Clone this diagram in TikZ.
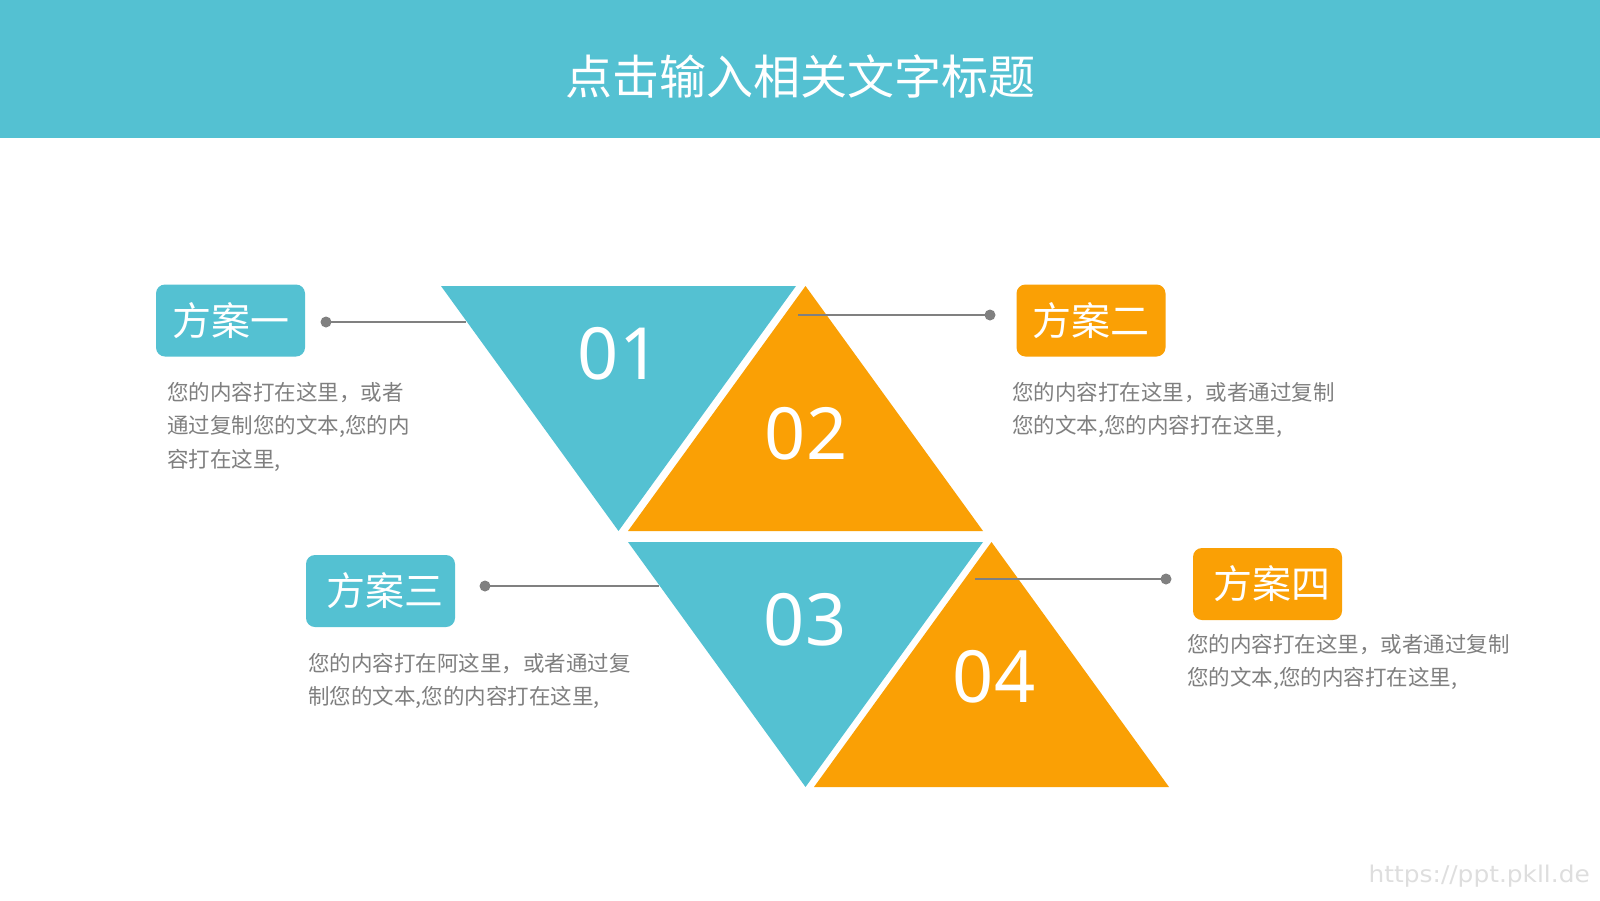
\documentclass[tikz,border=0pt]{standalone}
\usepackage{fontspec}
\newfontfamily\cjk{Noto Sans CJK SC}
\newfontfamily\numfont{Noto Sans}
\newfontfamily\wmfont{DejaVu Sans}
\definecolor{cy}{RGB}{84,193,210}
\definecolor{og}{RGB}{250,160,5}
\definecolor{tx}{RGB}{127,127,127}
\definecolor{ln}{RGB}{128,128,128}
\definecolor{wm}{RGB}{222,222,222}
\tikzset{
  tag/.style={rounded corners=9pt, minimum width=149pt, minimum height=72pt, inner sep=0pt, text=white, font=\cjk\fontsize{39}{46}\selectfont},
  desc/.style={anchor=base west, align=left, inner sep=0pt, text=tx, font=\cjk\fontsize{21.5}{33.5}\selectfont},
  num/.style={text=white, inner sep=0pt, font=\numfont\fontsize{72}{76}\selectfont},
  dotn/.style={circle, fill=ln, minimum size=11pt, inner sep=0pt},
  conn/.style={draw=ln, line width=2pt}
}
\begin{document}
\begin{tikzpicture}[x=1pt,y=-1pt]
\useasboundingbox (0,0) rectangle (1600,900);
\fill[white] (0,0) rectangle (1600,900);
% header
\fill[cy] (0,0) rectangle (1600,138);
\node[text=white, inner sep=0pt, font=\cjk\fontsize{47}{50}\selectfont] (title) at (800,76) {点击输入相关文字标题};
% triangles
\fill[cy] (441,286) -- (796,286) -- (618.5,531) -- cycle;
\fill[og] (628,531) -- (983,531) -- (805.5,286) -- cycle;
\fill[cy] (628,542) -- (983,542) -- (805.5,787) -- cycle;
\fill[og] (814,787) -- (1169,787) -- (991.5,542) -- cycle;
\node[num] (n1) at (619,354) {01};
\node[num] (n2) at (806,434) {02};
\node[num] (n3) at (805,620) {03};
\node[num] (n4) at (994,677) {04};
% tags
\node[tag, fill=cy] (t1) at (230.5,320.5) {方案一};
\node[tag, fill=og] (t2) at (1091,320.5) {方案二};
\node[tag, fill=cy] (t3) at (380.5,591) {\hspace{8pt}方案三};
\node[tag, fill=og] (t4) at (1267.5,584) {\hspace{8pt}方案四};
% connectors
\node[dotn] (d1) at (326,322) {};
\coordinate (e1) at (466,322);
\draw[conn] (d1.center) -- (e1);
\node[dotn] (d2) at (990,315) {};
\coordinate (e2) at (798,315);
\draw[conn] (e2) -- (d2.center);
\node[dotn] (d3) at (485,586) {};
\coordinate (e3) at (659,586);
\draw[conn] (d3.center) -- (e3);
\node[dotn] (d4) at (1166,579) {};
\coordinate (e4) at (975,579);
\draw[conn] (e4) -- (d4.center);
% descriptions (anchor = baseline of last line)
\node[desc] (x1) at (167,467) {您的内容打在这里，或者\\通过复制您的文本,您的内\\容打在这里,};
\node[desc] (x2) at (1012,433.5) {您的内容打在这里，或者通过复制\\您的文本,您的内容打在这里,};
\node[desc] (x3) at (308,704.5) {您的内容打在阿这里，或者通过复\\制您的文本,您的内容打在这里,};
\node[desc] (x4) at (1187,685.5) {您的内容打在这里，或者通过复制\\您的文本,您的内容打在这里,};
% watermark
\node[anchor=base east, inner sep=0pt, text=wm, xscale=1.08, font=\wmfont\fontsize{23}{26}\selectfont] (wmk) at (1590,882) {https://ppt.pkll.de};
\end{tikzpicture}
\end{document}
